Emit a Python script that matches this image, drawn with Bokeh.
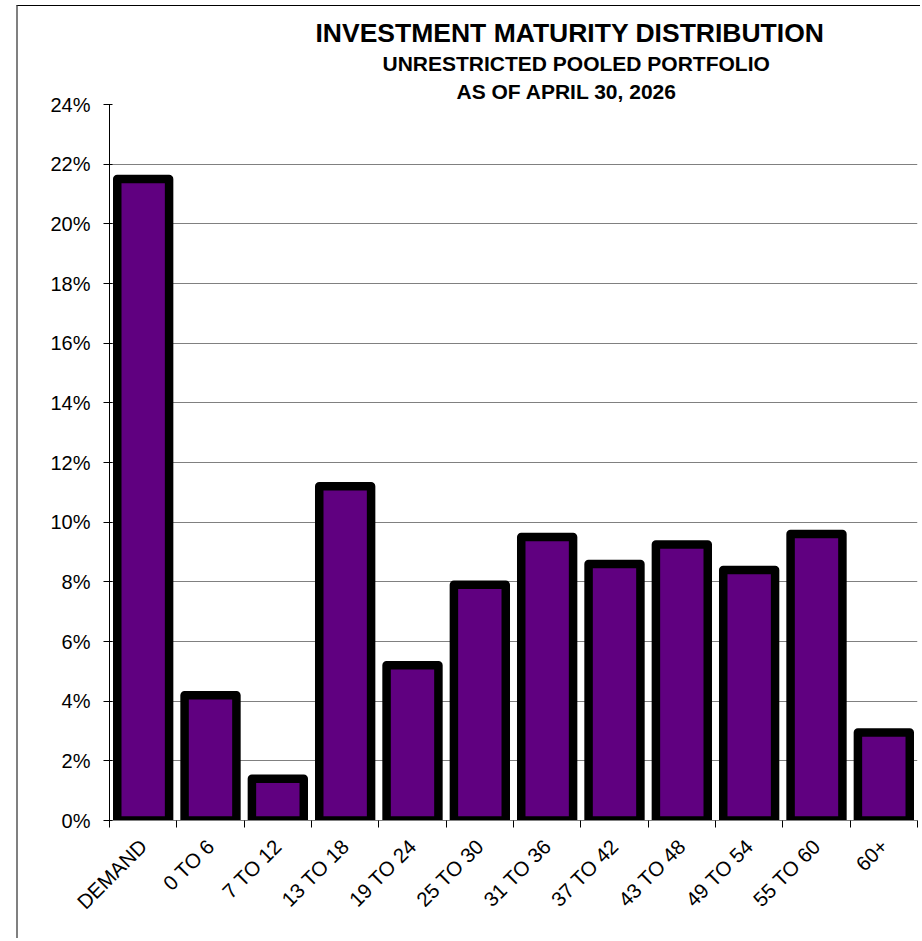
import numpy as np
from bokeh.plotting import figure
from bokeh.models import (Range1d, FixedTicker, PrintfTickFormatter, Title)
from bokeh.embed import file_html
from bokeh.resources import INLINE

# ---- data ----
categories = ["DEMAND", "0 TO 6", "7 TO 12", "13 TO 18", "19 TO 24", "25 TO 30",
              "31 TO 36", "37 TO 42", "43 TO 48", "49 TO 54", "55 TO 60", "60+"]
values = [21.5, 4.2, 1.4, 11.2, 5.2, 7.9, 9.5, 8.6, 9.25, 8.4, 9.6, 2.95]   # percent
y_ticks = list(range(0, 25, 2))
title_lines = ["INVESTMENT MATURITY DISTRIBUTION",
               "UNRESTRICTED POOLED PORTFOLIO",
               "AS OF APRIL 30, 2026"]

FONT = "Liberation Sans"
n = len(categories)
centers = [i + 0.5 for i in range(n)]
bounds = list(range(n + 1))

p = figure(width=904, height=933, x_range=Range1d(0, n), y_range=Range1d(0, 24),
           output_backend="svg", toolbar_location=None,
           min_border_left=91, min_border_right=5, min_border_top=98, min_border_bottom=119)
p.styles = {"margin-left": "16px", "margin-top": "5px",
            "border-left": "2px solid #808080", "border-top": "1px solid #000000"}
p.outline_line_color = None
p.background_fill_color = "white"
p.border_fill_color = "white"

p.vbar(x=centers, top=values, bottom=0, width=0.77,
       fill_color="#600080", line_color="black", line_width=8.5, line_join="round")

# y axis
p.yaxis.ticker = FixedTicker(ticks=y_ticks)
p.yaxis.formatter = PrintfTickFormatter(format="%d%%")
p.yaxis.major_tick_out = 6
p.yaxis.major_tick_in = 3
p.yaxis.minor_tick_line_color = None
p.yaxis.axis_line_color = "black"
p.yaxis.major_label_text_font = FONT
p.yaxis.major_label_text_font_size = "20px"
p.yaxis.major_label_text_color = "black"
p.yaxis.major_label_standoff = 13
p.ygrid.grid_line_color = "#808080"
p.ygrid.grid_line_width = 1
p.xgrid.visible = False

# x axis: labels at centres, tick marks at category boundaries
p.xaxis.ticker = FixedTicker(ticks=centers, minor_ticks=bounds)
p.xaxis.major_label_overrides = {c: lab for c, lab in zip(centers, categories)}
p.xaxis.major_tick_line_color = None
p.xaxis.minor_tick_line_color = "black"
p.xaxis.minor_tick_out = 7
p.xaxis.minor_tick_in = 0
p.xaxis.axis_line_color = "#808080"
p.xaxis.major_label_orientation = np.pi / 4
p.xaxis.major_label_text_font = FONT
p.xaxis.major_label_text_font_size = "20.5px"
p.xaxis.major_label_text_color = "black"
p.xaxis.major_label_standoff = 15

# titles (added innermost first)
for txt, size, stand, off in [(title_lines[2], "21px", 4, 347),
                              (title_lines[1], "21px", 2, 273),
                              (title_lines[0], "26.5px", 2, 206)]:
    t = Title(text=txt, align="left", offset=off, text_font=FONT, text_font_size=size,
              text_font_style="bold", text_color="black", standoff=stand)
    p.add_layout(t, "above")

open("out.html", "w").write(file_html(p, INLINE))
